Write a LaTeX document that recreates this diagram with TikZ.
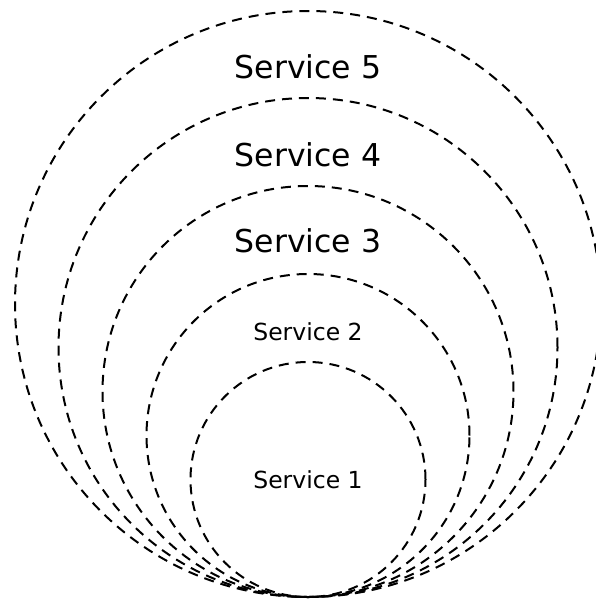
\documentclass[tikz,border=0pt]{standalone}
\usepackage{fontspec}
\setmainfont{DejaVu Sans}
\usepackage{tikz}
\usetikzlibrary{positioning}

\tikzset{
	ring/.style={draw,circle,dash pattern=on 10pt off 7pt,line width=2pt,
		inner sep=0pt,outer sep=0pt,anchor=south},
	service/.style={font=\fontsize{#1}{#1}\selectfont,inner sep=0pt}
}

\begin{document}
\begin{tikzpicture}[x=1pt,y=1pt]
		\useasboundingbox (0,0) rectangle (595,-600);
		\coordinate (base) at (308,-597);

		\node [ring,minimum size=235pt] at (base) (ring1) {};
		\node [ring,minimum size=323pt] at (base) (ring2) {};
		\node [ring,minimum size=411pt] at (base) (ring3) {};
		\node [ring,minimum size=499pt] at (base) (ring4) {};
		\node [ring,minimum size=586pt] at (base) (ring5) {};

		\node [service=23.5] at (ring1.center) (s1) {Service 1};
		\node [service=23.5] at ([yshift=-58pt]ring2.north) (s2) {Service 2};
		\node [service=31.5] at ([yshift=-55pt]ring3.north) (s3) {Service 3};
		\node [service=31.5] at ([yshift=-57pt]ring4.north) (s4) {Service 4};
		\node [service=31.5] at ([yshift=-56pt]ring5.north) (s5) {Service 5};
	\end{tikzpicture}
\end{document}
